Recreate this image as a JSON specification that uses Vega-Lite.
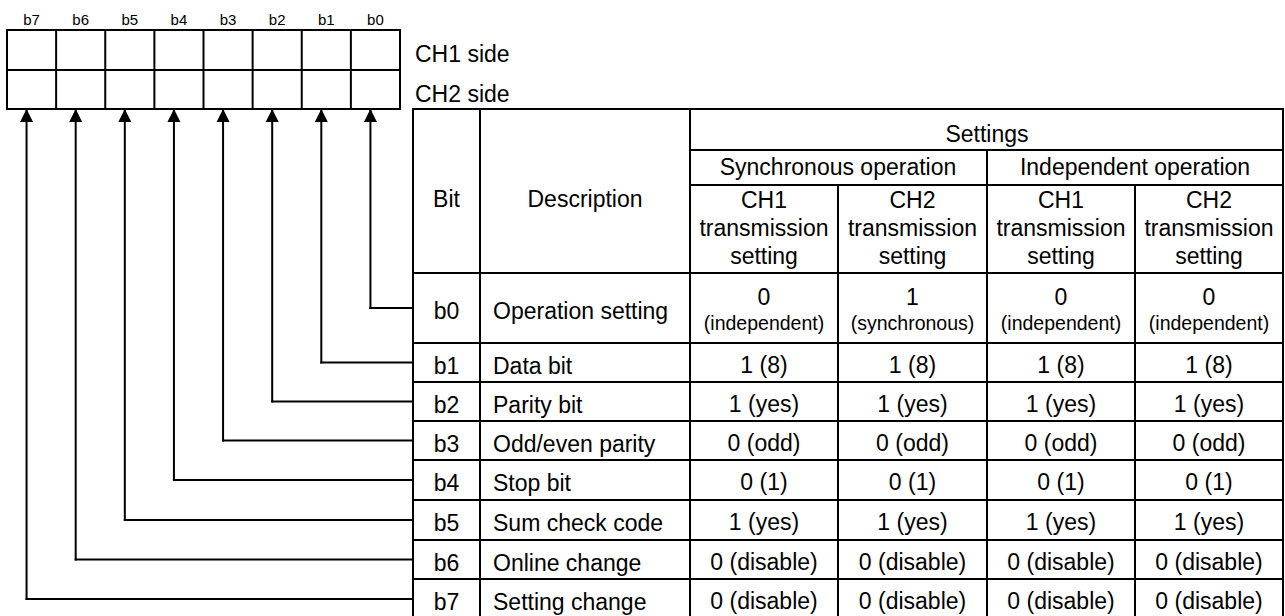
{
  "$schema": "https://vega.github.io/schema/vega-lite/v6.json",
  "width": 1285,
  "height": 616,
  "padding": 0,
  "autosize": {"type": "none"},
  "background": "white",
  "config": {
    "view": {"stroke": null},
    "text": {"font": "Liberation Sans", "fontSize": 23, "color": "black", "baseline": "middle", "lineBreak": "\n", "lineHeight": 28},
    "rule": {"color": "black", "strokeCap": "square"}
  },
  "datasets": {
    "grid": [
      {"x": -0.5, "x2": 7.5, "y": -2.5, "y2": -2.5, "kind": "register"},
      {"x": -0.5, "x2": 7.5, "y": -1.5, "y2": -1.5, "kind": "register"},
      {"x": -0.5, "x2": 7.5, "y": -0.5, "y2": -0.5, "kind": "register"},
      {"x": -0.5, "x2": -0.5, "y": -2.5, "y2": -0.5, "kind": "register"},
      {"x": 0.5, "x2": 0.5, "y": -2.5, "y2": -0.5, "kind": "register"},
      {"x": 1.5, "x2": 1.5, "y": -2.5, "y2": -0.5, "kind": "register"},
      {"x": 2.5, "x2": 2.5, "y": -2.5, "y2": -0.5, "kind": "register"},
      {"x": 3.5, "x2": 3.5, "y": -2.5, "y2": -0.5, "kind": "register"},
      {"x": 4.5, "x2": 4.5, "y": -2.5, "y2": -0.5, "kind": "register"},
      {"x": 5.5, "x2": 5.5, "y": -2.5, "y2": -0.5, "kind": "register"},
      {"x": 6.5, "x2": 6.5, "y": -2.5, "y2": -0.5, "kind": "register"},
      {"x": 7.5, "x2": 7.5, "y": -2.5, "y2": -0.5, "kind": "register"},
      {"x": 10.5, "x2": 14.5, "y": 0.5, "y2": 0.5, "kind": "inner"},
      {"x": 10.5, "x2": 14.5, "y": 1.5, "y2": 1.5, "kind": "inner"},
      {"x": 8.5, "x2": 14.5, "y": 3.5, "y2": 3.5, "kind": "inner"},
      {"x": 8.5, "x2": 14.5, "y": 4.5, "y2": 4.5, "kind": "inner"},
      {"x": 8.5, "x2": 14.5, "y": 5.5, "y2": 5.5, "kind": "inner"},
      {"x": 8.5, "x2": 14.5, "y": 6.5, "y2": 6.5, "kind": "inner"},
      {"x": 8.5, "x2": 14.5, "y": 7.5, "y2": 7.5, "kind": "inner"},
      {"x": 8.5, "x2": 14.5, "y": 8.5, "y2": 8.5, "kind": "inner"},
      {"x": 8.5, "x2": 14.5, "y": 9.5, "y2": 9.5, "kind": "inner"},
      {"x": 9.5, "x2": 9.5, "y": -0.5, "y2": 10.5, "kind": "inner"},
      {"x": 10.5, "x2": 10.5, "y": -0.5, "y2": 10.5, "kind": "inner"},
      {"x": 11.5, "x2": 11.5, "y": 1.5, "y2": 10.5, "kind": "inner"},
      {"x": 12.5, "x2": 12.5, "y": 0.5, "y2": 10.5, "kind": "inner"},
      {"x": 13.5, "x2": 13.5, "y": 1.5, "y2": 10.5, "kind": "inner"},
      {"x": 8.5, "x2": 14.5, "y": 2.5, "y2": 2.5, "kind": "header"},
      {"x": 8.5, "x2": 14.5, "y": -0.5, "y2": -0.5, "kind": "outer"},
      {"x": 8.5, "x2": 14.5, "y": 10.5, "y2": 10.5, "kind": "outer"},
      {"x": 8.5, "x2": 8.5, "y": -0.5, "y2": 10.5, "kind": "outer"},
      {"x": 14.5, "x2": 14.5, "y": -0.5, "y2": 10.5, "kind": "outer"}
    ],
    "bits": [
      {"bit": "b7", "pos": 0, "row": 10, "description": "Setting change"},
      {"bit": "b6", "pos": 1, "row": 9, "description": "Online change"},
      {"bit": "b5", "pos": 2, "row": 8, "description": "Sum check code"},
      {"bit": "b4", "pos": 3, "row": 7, "description": "Stop bit"},
      {"bit": "b3", "pos": 4, "row": 6, "description": "Odd/even parity"},
      {"bit": "b2", "pos": 5, "row": 5, "description": "Parity bit"},
      {"bit": "b1", "pos": 6, "row": 4, "description": "Data bit"},
      {"bit": "b0", "pos": 7, "row": 3, "description": "Operation setting"}
    ],
    "sides": [
      {"label": "CH1 side", "row": -2},
      {"label": "CH2 side", "row": -1}
    ],
    "headers": [
      {"text": "Settings", "row": 0, "col": 12.5, "kind": "top"},
      {"text": "Synchronous operation", "row": 1, "col": 11.5, "kind": "mid"},
      {"text": "Independent operation", "row": 1, "col": 13.5, "kind": "mid"},
      {"text": "CH1\ntransmission\nsetting", "row": 2, "col": 11, "kind": "channel"},
      {"text": "CH2\ntransmission\nsetting", "row": 2, "col": 12, "kind": "channel"},
      {"text": "CH1\ntransmission\nsetting", "row": 2, "col": 13, "kind": "channel"},
      {"text": "CH2\ntransmission\nsetting", "row": 2, "col": 14, "kind": "channel"},
      {"text": "Bit", "row": 2, "col": 9, "kind": "left"},
      {"text": "Description", "row": 2, "col": 10, "kind": "left"}
    ],
    "values": [
      {"bit": "b0", "row": 3, "col": 11, "value": "0", "note": "(independent)"},
      {"bit": "b0", "row": 3, "col": 12, "value": "1", "note": "(synchronous)"},
      {"bit": "b0", "row": 3, "col": 13, "value": "0", "note": "(independent)"},
      {"bit": "b0", "row": 3, "col": 14, "value": "0", "note": "(independent)"},
      {"bit": "b1", "row": 4, "col": 11, "value": "1 (8)"},
      {"bit": "b1", "row": 4, "col": 12, "value": "1 (8)"},
      {"bit": "b1", "row": 4, "col": 13, "value": "1 (8)"},
      {"bit": "b1", "row": 4, "col": 14, "value": "1 (8)"},
      {"bit": "b2", "row": 5, "col": 11, "value": "1 (yes)"},
      {"bit": "b2", "row": 5, "col": 12, "value": "1 (yes)"},
      {"bit": "b2", "row": 5, "col": 13, "value": "1 (yes)"},
      {"bit": "b2", "row": 5, "col": 14, "value": "1 (yes)"},
      {"bit": "b3", "row": 6, "col": 11, "value": "0 (odd)"},
      {"bit": "b3", "row": 6, "col": 12, "value": "0 (odd)"},
      {"bit": "b3", "row": 6, "col": 13, "value": "0 (odd)"},
      {"bit": "b3", "row": 6, "col": 14, "value": "0 (odd)"},
      {"bit": "b4", "row": 7, "col": 11, "value": "0 (1)"},
      {"bit": "b4", "row": 7, "col": 12, "value": "0 (1)"},
      {"bit": "b4", "row": 7, "col": 13, "value": "0 (1)"},
      {"bit": "b4", "row": 7, "col": 14, "value": "0 (1)"},
      {"bit": "b5", "row": 8, "col": 11, "value": "1 (yes)"},
      {"bit": "b5", "row": 8, "col": 12, "value": "1 (yes)"},
      {"bit": "b5", "row": 8, "col": 13, "value": "1 (yes)"},
      {"bit": "b5", "row": 8, "col": 14, "value": "1 (yes)"},
      {"bit": "b6", "row": 9, "col": 11, "value": "0 (disable)"},
      {"bit": "b6", "row": 9, "col": 12, "value": "0 (disable)"},
      {"bit": "b6", "row": 9, "col": 13, "value": "0 (disable)"},
      {"bit": "b6", "row": 9, "col": 14, "value": "0 (disable)"},
      {"bit": "b7", "row": 10, "col": 11, "value": "0 (disable)"},
      {"bit": "b7", "row": 10, "col": 12, "value": "0 (disable)"},
      {"bit": "b7", "row": 10, "col": 13, "value": "0 (disable)"},
      {"bit": "b7", "row": 10, "col": 14, "value": "0 (disable)"}
    ]
  },
  "layer": [
    {
      "data": {"name": "grid"},
      "mark": {"type": "rule"},
      "encoding": {
        "x": {"field": "x", "type": "quantitative", "axis": null, "scale": {"domain": [-0.5, 7.5, 8.5, 9.5, 10.5, 11.5, 12.5, 13.5, 14.5], "range": [7, 400, 413, 480, 690, 838, 987, 1135, 1283], "zero": false, "nice": false}},
        "x2": {"field": "x2"},
        "y": {"field": "y", "type": "quantitative", "axis": null, "scale": {"domain": [-3.5, -2.5, -1.5, -0.5, 0.5, 1.5, 2.5, 3.5, 4.5, 5.5, 6.5, 7.5, 8.5, 9.5, 10.5], "range": [10, 30, 70, 109, 150, 185, 273, 343, 382, 421, 460, 500, 540, 579, 619], "zero": false, "nice": false}},
        "y2": {"field": "y2"},
        "strokeWidth": {"field": "kind", "type": "nominal", "legend": null, "scale": {"domain": ["register", "inner", "header", "outer"], "range": [2, 2, 3, 4]}}
      }
    },
    {
      "data": {"name": "bits"},
      "mark": {"type": "rule", "strokeWidth": 2, "xOffset": -5},
      "encoding": {
        "x": {"field": "pos", "type": "quantitative"},
        "y": {"field": "row", "type": "quantitative"},
        "y2": {"datum": -0.5}
      }
    },
    {
      "data": {"name": "bits"},
      "mark": {"type": "rule", "strokeWidth": 2, "xOffset": -5},
      "encoding": {
        "x": {"field": "pos", "type": "quantitative"},
        "x2": {"datum": 8.5},
        "y": {"field": "row", "type": "quantitative"}
      }
    },
    {
      "data": {"name": "bits"},
      "mark": {"type": "point", "shape": "M0,0L-1,2L1,2Z", "size": 169, "filled": true, "color": "black", "opacity": 1, "strokeWidth": 0, "xOffset": -5},
      "encoding": {
        "x": {"field": "pos", "type": "quantitative"},
        "y": {"datum": -0.5}
      }
    },
    {
      "data": {"name": "bits"},
      "mark": {"type": "text", "fontSize": 15},
      "encoding": {
        "x": {"field": "pos", "type": "quantitative"},
        "y": {"datum": -3},
        "text": {"field": "bit"}
      }
    },
    {
      "data": {"name": "sides"},
      "mark": {"type": "text", "align": "left", "dx": 2, "dy": 5},
      "encoding": {
        "x": {"datum": 8.5},
        "y": {"field": "row", "type": "quantitative"},
        "text": {"field": "label"}
      }
    },
    {
      "data": {"name": "headers"},
      "transform": [{"filter": "datum.kind === 'top'"}],
      "mark": {"type": "text", "dy": 5},
      "encoding": {
        "x": {"field": "col", "type": "quantitative"},
        "y": {"field": "row", "type": "quantitative"},
        "text": {"field": "text"}
      }
    },
    {
      "data": {"name": "headers"},
      "transform": [{"filter": "datum.kind === 'mid'"}],
      "mark": {"type": "text"},
      "encoding": {
        "x": {"field": "col", "type": "quantitative"},
        "y": {"field": "row", "type": "quantitative"},
        "text": {"field": "text"}
      }
    },
    {
      "data": {"name": "headers"},
      "transform": [{"filter": "datum.kind === 'channel'"}],
      "mark": {"type": "text", "dy": -28},
      "encoding": {
        "x": {"field": "col", "type": "quantitative"},
        "y": {"field": "row", "type": "quantitative"},
        "text": {"field": "text"}
      }
    },
    {
      "data": {"name": "headers"},
      "transform": [{"filter": "datum.kind === 'left'"}],
      "mark": {"type": "text", "dy": -29},
      "encoding": {
        "x": {"field": "col", "type": "quantitative"},
        "y": {"field": "row", "type": "quantitative"},
        "text": {"field": "text"}
      }
    },
    {
      "data": {"name": "bits"},
      "mark": {"type": "text", "dy": 4},
      "encoding": {
        "x": {"datum": 9},
        "y": {"field": "row", "type": "quantitative"},
        "text": {"field": "bit"}
      }
    },
    {
      "data": {"name": "bits"},
      "mark": {"type": "text", "align": "left", "dx": 13, "dy": 4},
      "encoding": {
        "x": {"datum": 9.5},
        "y": {"field": "row", "type": "quantitative"},
        "text": {"field": "description"}
      }
    },
    {
      "data": {"name": "values"},
      "transform": [{"filter": "!isValid(datum.note)"}],
      "mark": {"type": "text", "dy": 3},
      "encoding": {
        "x": {"field": "col", "type": "quantitative"},
        "y": {"field": "row", "type": "quantitative"},
        "text": {"field": "value"}
      }
    },
    {
      "data": {"name": "values"},
      "transform": [{"filter": "isValid(datum.note)"}],
      "mark": {"type": "text", "dy": -10.5},
      "encoding": {
        "x": {"field": "col", "type": "quantitative"},
        "y": {"field": "row", "type": "quantitative"},
        "text": {"field": "value"}
      }
    },
    {
      "data": {"name": "values"},
      "transform": [{"filter": "isValid(datum.note)"}],
      "mark": {"type": "text", "dy": 16, "fontSize": 19.5},
      "encoding": {
        "x": {"field": "col", "type": "quantitative"},
        "y": {"field": "row", "type": "quantitative"},
        "text": {"field": "note"}
      }
    }
  ]
}
